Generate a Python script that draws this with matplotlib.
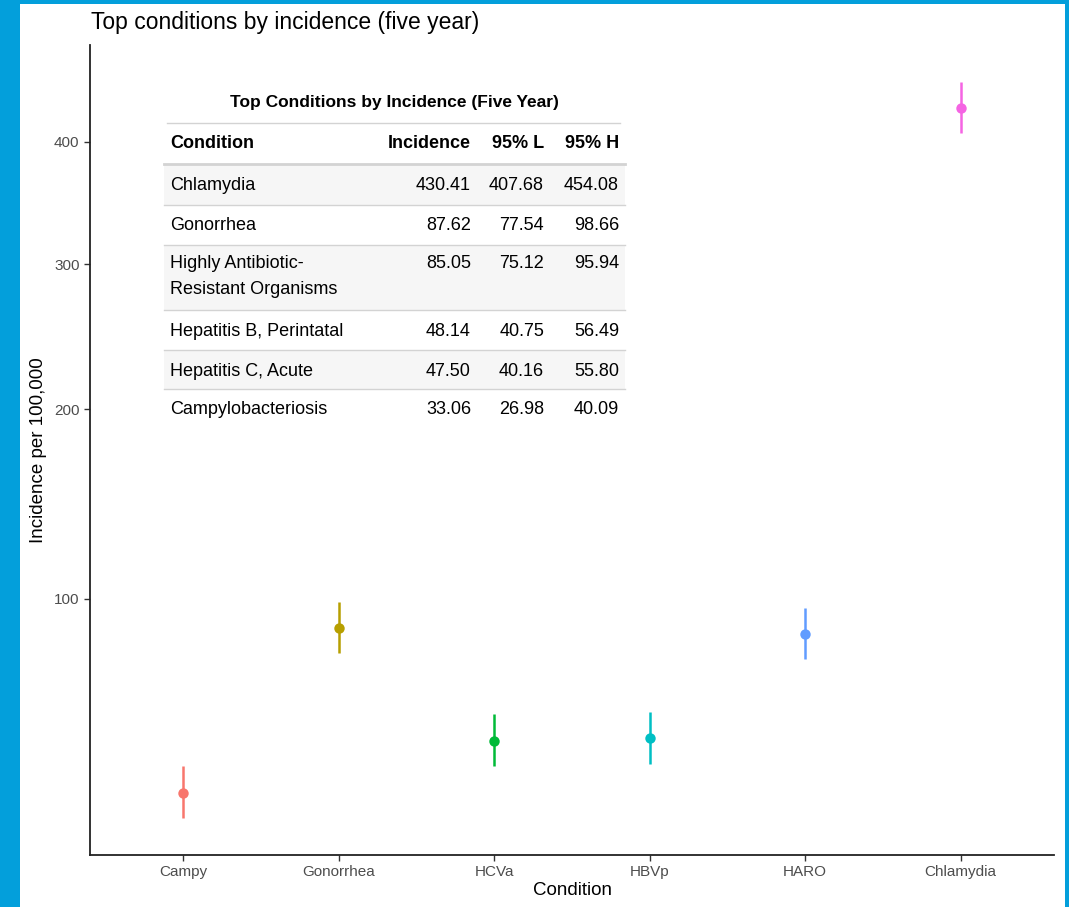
import numpy as np
import matplotlib
matplotlib.use("Agg")
import matplotlib.pyplot as plt
from matplotlib.patches import Rectangle
from matplotlib.lines import Line2D

plt.rcParams["font.family"] = ["Liberation Sans", "DejaVu Sans"]

# plotted points (x order as in the chart)
codes = ["Campy", "Gonorrhea", "HCVa", "HBVp", "HARO", "Chlamydia"]
incidence = [33.06, 87.62, 47.50, 48.14, 85.05, 430.41]
lower = [26.98, 77.54, 40.16, 40.75, 75.12, 407.68]
upper = [40.09, 98.66, 55.80, 56.49, 95.94, 454.08]
colors = ["#F8766D", "#B79F00", "#00BA38", "#00BFC4", "#619CFF", "#F564E3"]

# inset table
table_title = "Top Conditions by Incidence (Five Year)"
table_header = ["Condition", "Incidence", "95% L", "95% H"]
table_names = ["Chlamydia", "Gonorrhea", "Highly Antibiotic-\nResistant Organisms",
               "Hepatitis B, Perintatal", "Hepatitis C, Acute", "Campylobacteriosis"]
table_inc = ["430.41", "87.62", "85.05", "48.14", "47.50", "33.06"]
table_lo = ["407.68", "77.54", "75.12", "40.75", "40.16", "26.98"]
table_hi = ["454.08", "98.66", "95.94", "56.49", "55.80", "40.09"]

W, H = 1069, 907
fig = plt.figure(figsize=(W / 100, H / 100), dpi=100)
fig.patch.set_facecolor("#039FDB")
fig.add_artist(Rectangle((20 / W, 0), (1065 - 20) / W, (H - 4) / H,
                         transform=fig.transFigure, facecolor="white",
                         edgecolor="none", zorder=0))


def fx(px):
    return px / W


def fy(py):
    return 1 - py / H


ax = fig.add_axes([fx(90), fy(855), fx(1054) - fx(90), fy(45) - fy(855)])
ax.set_facecolor("white")
ax.set_yscale("function", functions=(np.sqrt, np.square))

x = np.arange(1, len(codes) + 1)
for i in range(len(codes)):
    ax.plot([x[i], x[i]], [lower[i], upper[i]], color=colors[i], lw=1.8,
            solid_capstyle="butt", zorder=2)
    ax.plot(x[i], incidence[i], "o", color=colors[i], ms=7.5, mec="none", zorder=3)

lo_s, hi_s = np.sqrt(min(lower)), np.sqrt(max(upper))
pad = (hi_s - lo_s) * 0.05
ax.set_ylim((lo_s - pad) ** 2, (hi_s + pad) ** 2)
ax.set_xlim(0.4, len(codes) + 0.6)
ax.set_xticks(x)
ax.set_xticklabels(codes)
ax.set_yticks([100, 200, 300, 400])
ax.set_yticklabels(["100", "200", "300", "400"])
ax.tick_params(colors="#333333", labelcolor="#4D4D4D", labelsize=11, length=4, width=1)
for s in ["top", "right"]:
    ax.spines[s].set_visible(False)
for s in ["left", "bottom"]:
    ax.spines[s].set_linewidth(1.3)
    ax.spines[s].set_color("#222222")
ax.set_xlabel("Condition", fontsize=13.5, labelpad=2)
ax.set_ylabel("Incidence per 100,000", fontsize=13.5, labelpad=5)

fig.text(fx(91), fy(22), "Top conditions by incidence (five year)", fontsize=16.5,
         va="center", ha="left", color="black")

# inset table
tl, tr = 164, 625
fs = 13
fig.text(fx(394), fy(103), table_title, fontsize=12.5, weight="bold",
         ha="center", va="center")
fig.add_artist(Line2D([fx(167), fx(620)], [fy(123), fy(123)], color="#D3D3D3", lw=1))
col_x = [170, 471, 544, 619]
hy = 143
fig.text(fx(col_x[0]), fy(hy), table_header[0], fontsize=fs, weight="bold",
         ha="left", va="center")
for j in range(1, 4):
    fig.text(fx(col_x[j]), fy(hy), table_header[j], fontsize=fs, weight="bold",
             ha="right", va="center")
fig.add_artist(Line2D([fx(tl), fx(tr)], [fy(164), fy(164)], color="#D3D3D3", lw=2))

row_bounds = [164, 205, 245, 310, 350, 389, 429]
for i in range(len(table_names)):
    top, bot = row_bounds[i], row_bounds[i + 1]
    if i % 2 == 0:
        fig.add_artist(Rectangle((fx(tl), fy(bot)), fx(tr) - fx(tl), fy(top) - fy(bot),
                                 transform=fig.transFigure, facecolor="#F6F6F6",
                                 edgecolor="none", zorder=0.5))
    if i > 0:
        fig.add_artist(Line2D([fx(tl), fx(tr)], [fy(top), fy(top)], color="#D3D3D3", lw=1))
    lines = table_names[i].split("\n")
    ty = top + 21 if len(lines) == 1 else top + 19
    for k, line in enumerate(lines):
        fig.text(fx(col_x[0]), fy(ty + 26 * k), line, fontsize=fs, ha="left", va="center")
    vals = [table_inc[i], table_lo[i], table_hi[i]]
    for j in range(3):
        fig.text(fx(col_x[j + 1]), fy(ty), vals[j], fontsize=fs, ha="right", va="center")

fig.savefig("out.png", dpi=100, facecolor=fig.get_facecolor())
